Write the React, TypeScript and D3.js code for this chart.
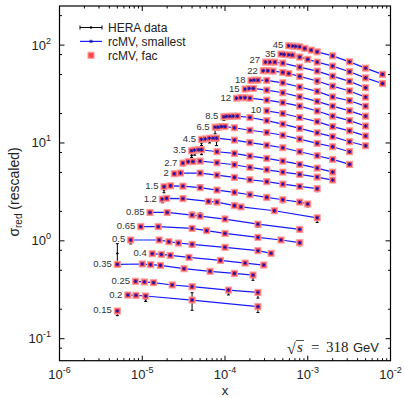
import React, { useEffect, useRef } from 'react';
import * as d3 from 'd3';

const W = 404;
const H = 398;
const plot = { left: 59.5, right: 390.5, top: 6, bottom: 360.7 };

// Q^2 bins (GeV^2), from top curve to bottom curve
const q2Labels = ['45', '35', '27', '22', '18', '15', '12', '10', '8.5', '6.5', '4.5', '3.5', '2.7', '2', '1.5', '1.2', '0.85', '0.65', '0.5', '0.4', '0.35', '0.25', '0.2', '0.15'];

const xValues = [
  [5.9e-4, 6.6e-4, 7.2e-4, 8.0e-4, 9.2e-4, 1.1e-3, 1.3e-3, 2.0e-3, 3.2e-3, 5.0e-3, 8.0e-3],
  [4.75e-4, 5.2e-4, 5.9e-4, 6.5e-4, 8.0e-4, 1.0e-3, 1.3e-3, 2.0e-3, 3.2e-3, 5.0e-3, 8.0e-3],
  [3.1e-4, 3.5e-4, 4.0e-4, 5.0e-4, 8.0e-4, 1.3e-3, 2.0e-3, 3.2e-3, 5.0e-3],
  [2.9e-4, 3.3e-4, 3.8e-4, 5.0e-4, 5.9e-4, 8.0e-4, 1.3e-3, 2.0e-3, 3.2e-3, 5.0e-3],
  [2.06e-4, 2.26e-4, 2.5e-4, 3.2e-4, 5.0e-4, 8.0e-4, 1.3e-3, 2.0e-3, 3.2e-3, 5.0e-3],
  [1.75e-4, 1.97e-4, 2.2e-4, 3.2e-4, 5.0e-4, 8.0e-4, 1.3e-3, 2.0e-3, 3.2e-3, 5.0e-3],
  [1.38e-4, 1.55e-4, 1.75e-4, 2.0e-4, 3.2e-4, 5.0e-4, 8.0e-4, 1.3e-3, 2.0e-3, 3.2e-3, 5.0e-3],
  [3.2e-4, 5.0e-4, 8.0e-4, 1.3e-3, 2.0e-3, 3.2e-3, 5.0e-3],
  [9.7e-5, 1.05e-4, 1.15e-4, 1.26e-4, 1.41e-4, 2.0e-4, 3.2e-4, 5.0e-4, 8.0e-4, 1.3e-3, 2.0e-3, 3.2e-3, 5.0e-3],
  [7.6e-5, 8.3e-5, 9.1e-5, 1.0e-4, 1.3e-4, 2.0e-4, 3.2e-4, 5.0e-4, 8.0e-4, 1.3e-3, 2.0e-3, 3.2e-3],
  [5.2e-5, 5.8e-5, 6.5e-5, 7.2e-5, 7.9e-5, 1.3e-4, 2.0e-4, 3.2e-4, 5.0e-4, 8.0e-4, 1.3e-3, 2.0e-3, 3.2e-3],
  [3.95e-5, 4.3e-5, 4.8e-5, 5.2e-5, 8.0e-5, 1.3e-4, 2.0e-4, 3.2e-4, 5.0e-4, 8.0e-4, 1.3e-3, 2.0e-3],
  [3.1e-5, 3.6e-5, 4.1e-5, 5.0e-5, 8.0e-5, 1.3e-4, 2.0e-4, 3.2e-4, 5.0e-4, 8.0e-4, 1.3e-3, 2.0e-3],
  [2.44e-5, 2.9e-5, 5.0e-5, 8.0e-5, 1.3e-4, 2.0e-4, 3.2e-4, 5.0e-4, 8.0e-4, 1.3e-3],
  [1.83e-5, 2.2e-5, 3.1e-5, 5.0e-5, 8.0e-5, 1.3e-4, 2.0e-4, 3.2e-4, 5.0e-4, 8.0e-4, 1.0e-3],
  [1.75e-5, 1.97e-5, 3.1e-5, 6.3e-5, 8.0e-5, 1.3e-4, 1.56e-4, 3.95e-4, 1.3e-3],
  [1.24e-5, 2.0e-5, 4.0e-5, 5.0e-5, 1.0e-4, 2.5e-4, 8.0e-4],
  [9.6e-6, 1.56e-5, 4.0e-5, 6.0e-5, 1.0e-4, 2.5e-4, 4.75e-4, 8.0e-4],
  [7.25e-6, 1.6e-5, 2.1e-5, 2.73e-5, 4.0e-5, 1.0e-4, 2.5e-4, 3.6e-4],
  [1.32e-5, 1.7e-5, 2.18e-5, 3.67e-5, 8.8e-5, 1.75e-4, 2.94e-4],
  [5.0e-6, 1.0e-5, 1.26e-5, 1.66e-5, 3.2e-5, 6.6e-5, 1.3e-4, 2.18e-4],
  [8.3e-6, 1.06e-5, 1.37e-5, 2.3e-5, 4.0e-5, 1.1e-4, 2.5e-4],
  [6.7e-6, 8.4e-6, 1.1e-5, 4.0e-5, 2.5e-4],
  [5.0e-6],
];

// rcMV model (rescaled sigma_red)
const modelValues = [
  [98.4, 97.7, 97.0, 96.0, 92.5, 88.9, 85.4, 77.7, 67.5, 58.2, 50.3],
  [81.0, 80.3, 79.6, 79.0, 75.5, 71.5, 67.0, 61.0, 53.5, 46.2, 40.5],
  [67.0, 67.0, 67.0, 65.5, 59.6, 54.3, 48.2, 42.6, 36.7],
  [54.7, 54.7, 54.3, 52.6, 51.3, 47.9, 43.0, 38.1, 34.0, 29.4],
  [43.6, 43.9, 43.9, 43.6, 41.2, 37.3, 33.7, 29.6, 27.0, 23.8],
  [35.5, 36.1, 36.1, 34.7, 32.6, 29.6, 26.6, 23.8, 21.3, 18.8],
  [28.7, 29.0, 29.0, 28.7, 27.4, 25.8, 23.8, 21.2, 18.8, 16.9, 14.9],
  [21.3, 20.0, 18.2, 16.5, 14.7, 13.3, 11.8],
  [18.5, 18.7, 18.7, 18.8, 18.8, 18.2, 16.9, 15.6, 14.1, 12.7, 11.6, 10.3, 9.37],
  [14.5, 14.5, 14.7, 14.7, 14.3, 13.5, 12.8, 12.0, 10.96, 9.9, 9.15, 8.14],
  [10.9, 11.0, 11.2, 11.2, 11.2, 10.7, 10.1, 9.5, 8.94, 8.14, 7.41, 6.8, 6.04],
  [8.33, 8.46, 8.53, 8.53, 8.14, 7.82, 7.35, 6.96, 6.53, 6.04, 5.54, 5.04],
  [6.23, 6.43, 6.46, 6.53, 6.28, 5.99, 5.62, 5.32, 5.04, 4.77, 4.48, 4.18],
  [4.85, 4.93, 4.93, 4.7, 4.45, 4.21, 4.02, 3.8, 3.6, 3.41],
  [3.57, 3.65, 3.62, 3.49, 3.3, 3.13, 2.96, 2.78, 2.63, 2.49, 2.38],
  [2.67, 2.72, 2.7, 2.53, 2.49, 2.29, 2.22, 2.03, 1.72],
  [1.95, 1.95, 1.835, 1.79, 1.67, 1.48, 1.31],
  [1.395, 1.395, 1.34, 1.27, 1.19, 1.085, 1.02, 0.957],
  [1.02, 1.02, 0.98, 0.95, 0.92, 0.858, 0.793, 0.745],
  [0.739, 0.727, 0.71, 0.678, 0.631, 0.593, 0.566],
  [0.575, 0.58, 0.571, 0.561, 0.519, 0.488, 0.465, 0.447],
  [0.386, 0.38, 0.374, 0.354, 0.34, 0.314, 0.297],
  [0.2795, 0.2774, 0.273, 0.2484, 0.2125],
  [0.192],
];

// HERA combined data (rescaled) and errors
const dataValues = [
  [98.0, 97.5, 96.5, 95.5, 92.0, 89.5, 85.0, 78.0, 67.0, 58.5, 50.0],
  [80.5, 80.0, 79.0, 79.5, 75.0, 71.0, 67.5, 60.5, 54.0, 46.5, 40.0],
  [66.0, 67.5, 66.5, 65.0, 60.0, 54.0, 48.5, 42.0, 37.0],
  [54.0, 55.0, 54.5, 52.0, 51.5, 48.0, 41.5, 38.5, 33.5, 29.5],
  [43.0, 44.0, 43.5, 44.0, 41.0, 37.5, 33.5, 29.8, 26.5, 24.0],
  [35.0, 36.5, 35.5, 35.0, 32.0, 29.8, 26.2, 24.0, 21.0, 18.7],
  [28.5, 29.2, 28.7, 29.0, 27.0, 25.9, 23.5, 21.4, 18.6, 17.2, 14.8],
  [21.0, 20.2, 18.0, 16.6, 14.5, 13.4, 11.7],
  [17.8, 18.3, 18.6, 19.2, 19.0, 18.0, 17.0, 15.5, 14.2, 12.6, 11.7, 10.2, 9.4],
  [13.6, 14.0, 14.8, 14.5, 14.2, 13.6, 12.7, 12.1, 10.9, 9.95, 9.1, 8.2],
  [10.0, 10.6, 10.3, 10.8, 10.4, 10.6, 10.2, 9.4, 9.0, 8.1, 7.45, 6.75, 6.1],
  [7.5, 7.8, 8.3, 8.0, 8.2, 7.75, 7.4, 6.9, 6.55, 6.0, 5.5, 5.1],
  [6.1, 6.4, 6.5, 6.6, 6.25, 6.05, 5.55, 5.35, 5.0, 4.8, 4.45, 4.2],
  [4.75, 4.9, 5.0, 4.68, 4.4, 4.2, 4.0, 3.78, 3.6, 3.3],
  [3.3, 3.6, 3.75, 3.65, 3.42, 3.22, 3.05, 2.85, 2.55, 2.45, 2.3],
  [2.55, 2.65, 2.78, 2.6, 2.45, 2.38, 2.22, 2.07, 1.62],
  [1.93, 1.93, 1.9, 1.87, 1.72, 1.43, 1.27],
  [1.37, 1.37, 1.36, 1.26, 1.2, 1.08, 1.0, 0.93],
  [0.98, 1.03, 0.975, 0.94, 0.9, 0.855, 0.795, 0.745],
  [0.735, 0.725, 0.705, 0.675, 0.64, 0.59, 0.565],
  [0.745, 0.58, 0.565, 0.55, 0.515, 0.485, 0.455, 0.42],
  [0.383, 0.376, 0.365, 0.35, 0.335, 0.295, 0.28],
  [0.275, 0.272, 0.252, 0.245, 0.205],
  [0.182],
];

const dataErrors = [
  [1.6, 1.5, 1.5, 1.4, 1.4, 1.3, 1.3, 1.2, 1.1, 1.0, 1.0],
  [1.4, 1.3, 1.3, 1.2, 1.2, 1.1, 1.1, 1.0, 1.0, 0.9, 0.8],
  [2.5, 1.2, 1.2, 1.1, 1.0, 1.0, 0.9, 0.9, 0.8],
  [1.0, 1.0, 1.0, 0.9, 0.9, 0.9, 1.5, 0.8, 0.7, 0.6],
  [0.9, 0.8, 0.8, 0.8, 0.8, 0.7, 0.7, 0.6, 0.9, 0.5],
  [0.8, 0.7, 0.7, 0.7, 0.6, 0.6, 0.6, 0.5, 0.5, 0.4],
  [0.7, 0.6, 0.6, 0.6, 0.5, 0.5, 0.5, 0.5, 0.4, 0.4, 0.35],
  [0.5, 0.4, 0.4, 0.35, 0.35, 0.3, 0.3],
  [0.8, 0.6, 0.5, 0.6, 0.5, 0.4, 0.35, 0.3, 0.3, 0.3, 0.25, 0.25, 0.25],
  [1.2, 0.5, 0.5, 0.6, 0.35, 0.3, 0.3, 0.3, 0.25, 0.25, 0.2, 0.2],
  [0.6, 0.3, 0.3, 0.4, 1.0, 0.25, 0.25, 0.22, 0.2, 0.2, 0.18, 0.16, 0.15],
  [0.4, 0.3, 0.3, 0.4, 0.2, 0.18, 0.17, 0.16, 0.15, 0.14, 0.13, 0.12],
  [0.25, 0.15, 0.15, 0.15, 0.14, 0.13, 0.12, 0.12, 0.11, 0.1, 0.1, 0.1],
  [0.2, 0.1, 0.12, 0.1, 0.1, 0.09, 0.09, 0.09, 0.08, 0.12],
  [0.2, 0.08, 0.1, 0.1, 0.08, 0.1, 0.08, 0.08, 0.1, 0.06, 0.08],
  [0.1, 0.06, 0.07, 0.07, 0.05, 0.07, 0.04, 0.05, 0.08],
  [0.04, 0.05, 0.06, 0.06, 0.06, 0.06, 0.05],
  [0.04, 0.05, 0.04, 0.03, 0.03, 0.05, 0.03, 0.04],
  [0.05, 0.04, 0.02, 0.03, 0.04, 0.02, 0.02, 0.015],
  [0.015, 0.015, 0.015, 0.015, 0.02, 0.015, 0.015],
  [0.19, 0.015, 0.012, 0.015, 0.015, 0.012, 0.02, 0.025],
  [0.01, 0.01, 0.012, 0.012, 0.012, 0.015, 0.02],
  [0.008, 0.008, 0.012, 0.05, 0.02],
  [0.01],
];

const xTickExps = [-6, -5, -4, -3, -2];
const yTickExps = [-1, 0, 1, 2];
const yMinorMult = [2, 5, 8];
const legendLabels = ['HERA data', 'rcMV, smallest', 'rcMV, fac'];

const SANS = 'Liberation Sans, Arial, sans-serif';
const SERIF = 'Liberation Serif, Times New Roman, serif';
const BLUE = '#1a1aff';
const STAR = '#1010b0';

const starPath = (r: number) =>
  `M${-r},0L${r},0M0,${-r}L0,${r}M${-r * 0.7},${-r * 0.7}L${r * 0.7},${r * 0.7}M${-r * 0.7},${r * 0.7}L${r * 0.7},${-r * 0.7}`;

export default function App() {
  const svgRef = useRef<SVGSVGElement>(null);

  useEffect(() => {
    const svg = d3.select(svgRef.current);
    svg.selectAll('*').remove();

    const x = d3.scaleLog().domain([1e-6, 1e-2]).range([plot.left, plot.right]);
    const y = d3.scaleLog().domain([0.0596, 251]).range([plot.bottom, plot.top]);

    const bins = q2Labels.map((label, i) => {
      const n = Math.min(xValues[i].length, modelValues[i].length, dataValues[i].length, dataErrors[i].length);
      return d3.range(n).map(j => ({
        label,
        x: xValues[i][j],
        m: modelValues[i][j],
        d: dataValues[i][j],
        e: dataErrors[i][j],
      }));
    });
    const allPts = bins.flat();

    const g = svg.append('g');

    // model lines
    const line = d3.line<any>().x(p => x(p.x)).y(p => y(p.m));
    g.selectAll('.model-line')
      .data(bins)
      .enter()
      .append('path')
      .attr('d', b => line(b))
      .attr('fill', 'none')
      .attr('stroke', BLUE)
      .attr('stroke-width', 1.2);

    // data error bars
    const eb = g.selectAll('.err').data(allPts).enter().append('g');
    eb.append('line')
      .attr('x1', p => x(p.x)).attr('x2', p => x(p.x))
      .attr('y1', p => y(p.d + p.e)).attr('y2', p => y(Math.max(p.d - p.e, 1e-3)))
      .attr('stroke', '#000').attr('stroke-width', 1);
    [1, -1].forEach(s => {
      eb.append('line')
        .attr('x1', p => x(p.x) - 1.5).attr('x2', p => x(p.x) + 1.5)
        .attr('y1', p => y(p.d + s * p.e)).attr('y2', p => y(p.d + s * p.e))
        .attr('stroke', '#000').attr('stroke-width', 1);
    });
    eb.append('circle')
      .attr('cx', p => x(p.x)).attr('cy', p => y(p.d)).attr('r', 1.2).attr('fill', '#000');

    // rcMV fac squares
    g.selectAll('.sq').data(allPts).enter().append('rect')
      .attr('x', p => x(p.x) - 3).attr('y', p => y(p.m) - 3)
      .attr('width', 6).attr('height', 6)
      .attr('fill', '#ff4a4a').attr('stroke', '#ff9a9a').attr('stroke-width', 1.1);

    // rcMV smallest point markers
    g.selectAll('.star').data(allPts).enter().append('path')
      .attr('transform', p => `translate(${x(p.x)},${y(p.m)})`)
      .attr('d', starPath(1.8))
      .attr('stroke', STAR).attr('stroke-width', 0.9).attr('fill', 'none');

    // bin labels (the 27 / 22 pair sits very close, nudge them apart a little)
    const labelDy = (l: string) => (l === '27' ? -1.5 : l === '22' ? 0.8 : 0);
    g.selectAll('.q2').data(bins).enter().append('text')
      .attr('x', b => x(b[0].x) - 5.5)
      .attr('y', b => y(b[0].m) + 2.5 + labelDy(b[0].label))
      .attr('text-anchor', 'end')
      .attr('font-family', SANS).attr('font-size', 9.5).attr('fill', '#333')
      .text(b => b[0].label);

    // frame
    svg.append('rect')
      .attr('x', plot.left).attr('y', plot.top)
      .attr('width', plot.right - plot.left).attr('height', plot.bottom - plot.top)
      .attr('fill', 'none').attr('stroke', '#000').attr('stroke-width', 1.2);

    const ticks = svg.append('g').attr('stroke', '#000').attr('stroke-width', 1);
    // x ticks
    xTickExps.forEach(e => {
      const v = Math.pow(10, e);
      const px = x(v);
      ticks.append('line').attr('x1', px).attr('x2', px).attr('y1', plot.bottom).attr('y2', plot.bottom - 5);
      ticks.append('line').attr('x1', px).attr('x2', px).attr('y1', plot.top).attr('y2', plot.top + 5);
      if (e < -2) {
        d3.range(2, 10).forEach(k => {
          const pm = x(k * v);
          ticks.append('line').attr('x1', pm).attr('x2', pm).attr('y1', plot.bottom).attr('y2', plot.bottom - 2.5);
          ticks.append('line').attr('x1', pm).attr('x2', pm).attr('y1', plot.top).attr('y2', plot.top + 2.5);
        });
      }
      const t = svg.append('text')
        .attr('x', px).attr('y', 379)
        .attr('text-anchor', 'middle')
        .attr('font-family', SANS).attr('font-size', 13).attr('fill', '#222');
      t.append('tspan').text('10');
      t.append('tspan').attr('dy', -6).attr('font-size', 9).text(String(e));
    });
    // y ticks
    d3.range(-2, 3).forEach(e => {
      const v = Math.pow(10, e);
      yMinorMult.forEach(k => {
        const val = k * v;
        if (val < y.domain()[0] || val > y.domain()[1]) return;
        const pm = y(val);
        ticks.append('line').attr('x1', plot.left).attr('x2', plot.left + 2.5).attr('y1', pm).attr('y2', pm);
        ticks.append('line').attr('x1', plot.right).attr('x2', plot.right - 2.5).attr('y1', pm).attr('y2', pm);
      });
    });
    yTickExps.forEach(e => {
      const py = y(Math.pow(10, e));
      ticks.append('line').attr('x1', plot.left).attr('x2', plot.left + 5).attr('y1', py).attr('y2', py);
      ticks.append('line').attr('x1', plot.right).attr('x2', plot.right - 5).attr('y1', py).attr('y2', py);
      const t = svg.append('text')
        .attr('x', 51).attr('y', py + 4.5)
        .attr('text-anchor', 'end')
        .attr('font-family', SANS).attr('font-size', 13).attr('fill', '#222');
      t.append('tspan').text('10');
      t.append('tspan').attr('dy', -6).attr('font-size', 9).text(String(e));
    });

    // axis titles
    svg.append('text')
      .attr('x', 225).attr('y', 395)
      .attr('text-anchor', 'middle')
      .attr('font-family', SANS).attr('font-size', 13).attr('fill', '#222')
      .text('x');
    const yl = svg.append('text')
      .attr('transform', 'translate(19,192) rotate(-90)')
      .attr('text-anchor', 'middle')
      .attr('font-family', SANS).attr('font-size', 14).attr('fill', '#222');
    yl.append('tspan').text('σ');
    yl.append('tspan').attr('dy', 3).attr('font-size', 10).text('red');
    yl.append('tspan').attr('dy', -3).text(' (rescaled)');

    // legend
    const lg = svg.append('g');
    const ly = [27.5, 41.4, 55.3];
    lg.append('line').attr('x1', 80).attr('x2', 102).attr('y1', ly[0]).attr('y2', ly[0]).attr('stroke', '#000');
    [80, 102].forEach(cx => lg.append('line').attr('x1', cx).attr('x2', cx).attr('y1', ly[0] - 2).attr('y2', ly[0] + 2).attr('stroke', '#000'));
    lg.append('circle').attr('cx', 91).attr('cy', ly[0]).attr('r', 1.3).attr('fill', '#000');
    lg.append('line').attr('x1', 80).attr('x2', 102).attr('y1', ly[1]).attr('y2', ly[1]).attr('stroke', BLUE).attr('stroke-width', 1.2);
    lg.append('path').attr('transform', `translate(91,${ly[1]})`).attr('d', starPath(1.8)).attr('stroke', STAR).attr('stroke-width', 0.9);
    lg.append('rect').attr('x', 88).attr('y', ly[2] - 3).attr('width', 6).attr('height', 6)
      .attr('fill', '#ff4a4a').attr('stroke', '#ff9a9a').attr('stroke-width', 1.1);
    legendLabels.forEach((txt, i) => {
      lg.append('text')
        .attr('x', 108).attr('y', ly[i] + 4.4)
        .attr('font-family', SANS).attr('font-size', 12).attr('fill', '#222')
        .text(txt);
    });

    // sqrt(s) annotation
    const an = svg.append('g').attr('fill', '#222');
    an.append('text').attr('x', 287).attr('y', 354).attr('font-family', SERIF).attr('font-size', 16).text('√');
    an.append('line').attr('x1', 296).attr('x2', 304).attr('y1', 340.5).attr('y2', 340.5).attr('stroke', '#222').attr('stroke-width', 0.8);
    an.append('text').attr('x', 297).attr('y', 352).attr('font-family', SERIF).attr('font-style', 'italic').attr('font-size', 15).text('s');
    an.append('text').attr('x', 311).attr('y', 352).attr('font-family', SERIF).attr('font-size', 15).text('=');
    an.append('text').attr('x', 326).attr('y', 352).attr('font-family', SERIF).attr('font-size', 15).text('318');
    an.append('text').attr('x', 353).attr('y', 352).attr('font-family', SANS).attr('font-size', 13).text('GeV');
  }, []);

  return (
    <svg
      ref={svgRef}
      width={W}
      height={H}
      style={{ position: 'absolute', left: 0, top: 0, background: '#fff' }}
    />
  );
}
